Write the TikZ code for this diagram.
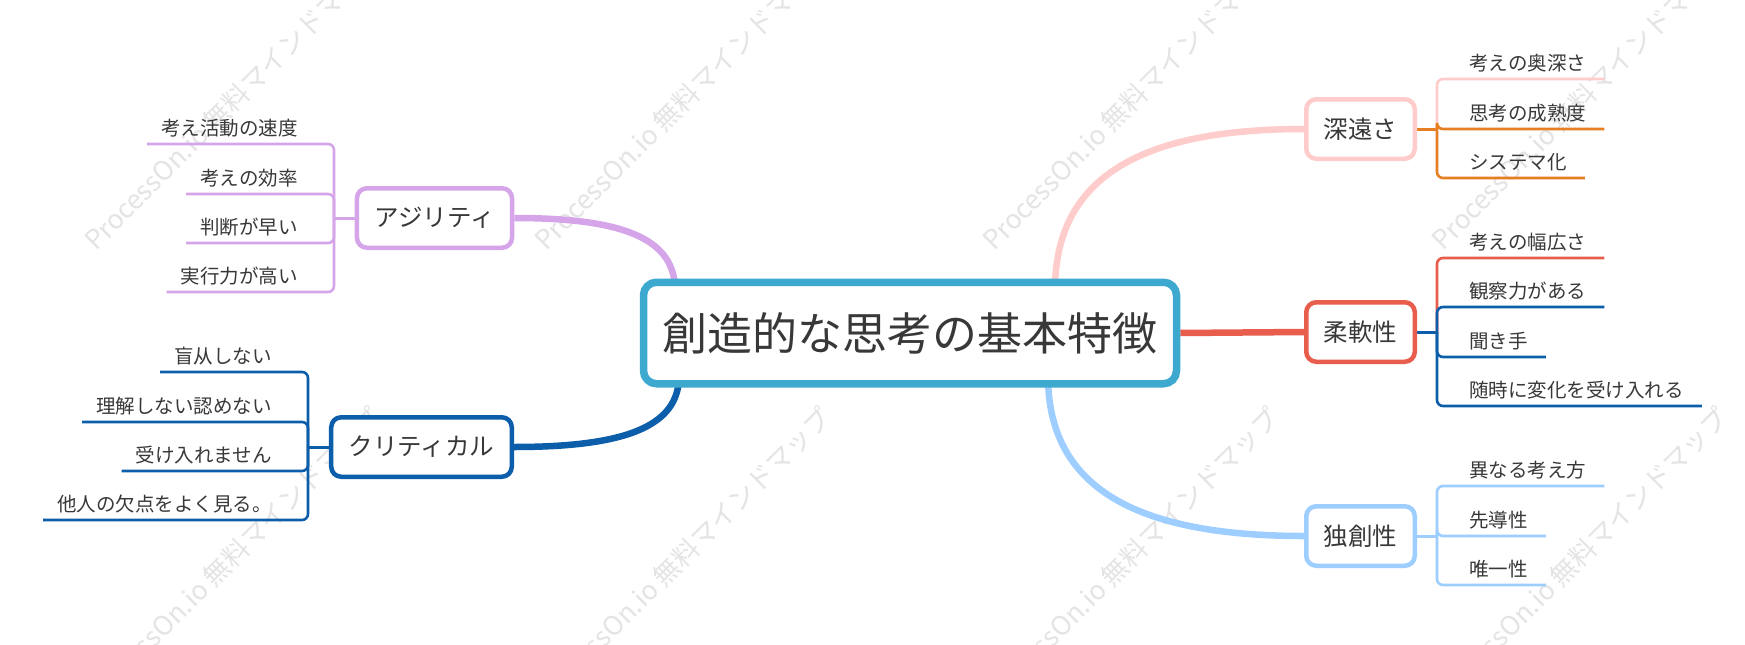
\documentclass[tikz,border=0pt]{standalone}
\usepackage{fontspec}
\setmainfont{Noto Sans CJK JP}
\usetikzlibrary{calc}
\definecolor{txt}{HTML}{383838}
\definecolor{rootc}{HTML}{3EA9CE}
\definecolor{agic}{HTML}{D6A5E9}
\definecolor{cric}{HTML}{0C5EAA}
\definecolor{pinkc}{HTML}{FFCCCC}
\definecolor{orgc}{HTML}{E67E22}
\definecolor{redc}{HTML}{E85D4B}
\definecolor{ltbc}{HTML}{9ECEFF}
\definecolor{wmc}{HTML}{E4E4E4}
\pgfdeclarelayer{wm}
\pgfdeclarelayer{bg}
\pgfsetlayers{wm,bg,main}
\begin{document}
\begin{tikzpicture}[x=1pt,y=-1pt,
 rootbox/.style={draw=rootc, line width=7.5pt, rounded corners=13pt, fill=white, text=txt,
   font=\fontsize{45}{50}\selectfont, minimum height=101.5pt, inner xsep=19pt, inner ysep=0pt},
 topicbox/.style={draw=#1, line width=4.5pt, rounded corners=10pt, fill=white, text=txt,
   font=\fontsize{24.5}{28}\selectfont, minimum height=59.5pt, inner xsep=17.5pt, inner ysep=0pt},
 leaftxt/.style={text=txt, font=\fontsize{19.5}{22}\selectfont, inner sep=0pt},
 leafline/.style={draw=#1, line width=2.6pt, rounded corners=6pt},
 stemline/.style={draw=#1, line width=3pt},
 mainline/.style={draw=#1, line width=6.5pt},
 wmark/.style={text=wmc, font=\fontsize{26.5}{28}\selectfont, rotate=45, anchor=base west, inner sep=0pt}
]
\useasboundingbox (0,0) rectangle (1745,645);

% watermark
\begin{pgfonlayer}{wm}
\fill[white] (0,0) rectangle (1745,645);
\foreach \wx/\wn in {96/a,546/b,994/c,1443/d}{
  \node[wmark] (wm1\wn) at (\wx,252) {ProcessOn.io 無料マインドマップ};
  \node[wmark] (wm2\wn) at (\wx,707) {ProcessOn.io 無料マインドマップ};
}
\end{pgfonlayer}

% nodes
\node[rootbox] (root) at (910,333) {創造的な思考の基本特徴};
\node[topicbox=agic] (agi) at (434.5,218) {アジリティ};
\node[topicbox=cric] (cri) at (421.5,447) {クリティカル};
\node[topicbox=pinkc] (shn) at (1360.5,129) {深遠さ};
\node[topicbox=redc] (jun) at (1360.5,332) {柔軟性};
\node[topicbox=ltbc] (dok) at (1360.5,536) {独創性};

% junctions and curve starts
\coordinate (Ja) at (334,218);
\coordinate (Jc) at (308,447);
\coordinate (Js) at (1437,129);
\coordinate (Jj) at (1437,332);
\coordinate (Jd) at (1437,536);
\coordinate (rA) at (675,290);
\coordinate (rC) at (679,376);
\coordinate (rS) at (1055,290);
\coordinate (rD) at (1048,376);

% leaves left: agility
\node[leaftxt, anchor=base east] (a1) at (298,135) {考え活動の速度};
\node[leaftxt, anchor=base east] (a2) at (298,185) {考えの効率};
\node[leaftxt, anchor=base east] (a3) at (298,234) {判断が早い};
\node[leaftxt, anchor=base east] (a4) at (298,283) {実行力が高い};
% leaves left: critical
\node[leaftxt, anchor=base east] (c1) at (272,363) {盲从しない};
\node[leaftxt, anchor=base east] (c2) at (272,413) {理解しない認めない};
\node[leaftxt, anchor=base east] (c3) at (272,462) {受け入れません};
\node[leaftxt, anchor=base east] (c4) at (272,511) {他人の欠点をよく見る。};
% leaves right
\node[leaftxt, anchor=base west] (s1) at (1469,70) {考えの奥深さ};
\node[leaftxt, anchor=base west] (s2) at (1469,120) {思考の成熟度};
\node[leaftxt, anchor=base west] (s3) at (1469,169) {システマ化};
\node[leaftxt, anchor=base west] (j1) at (1469,249) {考えの幅広さ};
\node[leaftxt, anchor=base west] (j2) at (1469,298) {観察力がある};
\node[leaftxt, anchor=base west] (j3) at (1469,348) {聞き手};
\node[leaftxt, anchor=base west] (j4) at (1469,397) {随時に変化を受け入れる};
\node[leaftxt, anchor=base west] (d1) at (1469,477) {異なる考え方};
\node[leaftxt, anchor=base west] (d2) at (1469,527) {先導性};
\node[leaftxt, anchor=base west] (d3) at (1469,576) {唯一性};

\begin{pgfonlayer}{bg}
% main branches
\draw[mainline=agic] (rA) .. controls (675,238) and (622,218) .. (agi.east);
\draw[mainline=cric] (rC) .. controls (679,427) and (624,447) .. (cri.east);
\draw[mainline=pinkc] (rS) .. controls (1055,179) and (1138,129) .. (shn.west);
\draw[mainline=redc] (root.east) -- (jun.west);
\draw[mainline=ltbc] (rD) .. controls (1048,486) and (1133,536) .. (dok.west);
% stems
\draw[stemline=agic] (agi.west) -- (Ja);
\draw[stemline=cric] (cri.west) -- (Jc);
\draw[stemline=orgc] (shn.east) -- (Js);
\draw[stemline=cric] (jun.east) -- (Jj);
\draw[stemline=ltbc] (dok.east) -- (Jd);
% leaf lines left
\draw[leafline=agic] (Ja) |- ($(a1.base west)+(-14,9)$);
\draw[leafline=agic] (Ja) |- ($(a2.base west)+(-14,9)$);
\draw[leafline=agic] (Ja) |- ($(a3.base west)+(-14,9)$);
\draw[leafline=agic] (Ja) |- ($(a4.base west)+(-14,9)$);
\draw[leafline=cric] (Jc) |- ($(c1.base west)+(-14,9)$);
\draw[leafline=cric] (Jc) |- ($(c2.base west)+(-14,9)$);
\draw[leafline=cric] (Jc) |- ($(c3.base west)+(-14,9)$);
\draw[leafline=cric] (Jc) |- ($(c4.base west)+(-14,9)$);
% leaf lines right
\draw[leafline=pinkc] (Js) |- ($(s1.base east)+(18,9)$);
\draw[leafline=orgc] (Js) |- ($(s2.base east)+(18,9)$);
\draw[leafline=orgc] (Js) |- ($(s3.base east)+(18,9)$);
\draw[leafline=redc] (Jj) |- ($(j1.base east)+(18,9)$);
\draw[leafline=cric] (Jj) |- ($(j2.base east)+(18,9)$);
\draw[leafline=cric] (Jj) |- ($(j3.base east)+(18,9)$);
\draw[leafline=cric] (Jj) |- ($(j4.base east)+(18,9)$);
\draw[leafline=ltbc] (Jd) |- ($(d1.base east)+(18,9)$);
\draw[leafline=ltbc] (Jd) |- ($(d2.base east)+(18,9)$);
\draw[leafline=ltbc] (Jd) |- ($(d3.base east)+(18,9)$);
\end{pgfonlayer}
\end{tikzpicture}
\end{document}
